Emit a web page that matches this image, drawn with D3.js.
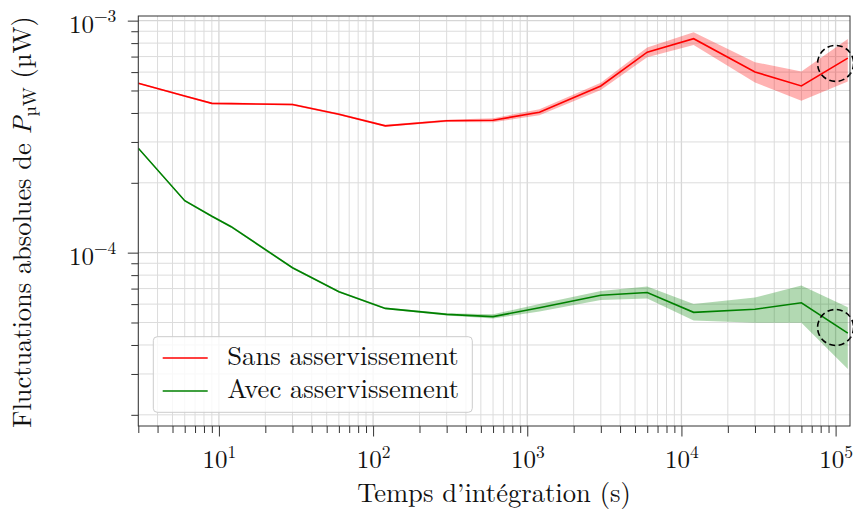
<!DOCTYPE html>
<html><head><meta charset="utf-8">
<script src="https://cdn.jsdelivr.net/npm/d3@7"></script>
<style>body{margin:0;background:#fff}</style>
</head><body><svg id="c" width="853" height="511"></svg>
<script>
// ---- data ----
const times = [3, 6, 9, 12, 30, 60, 120, 300, 600, 1200, 3000, 6000, 12000, 30000, 60000, 120000];
const sansValues = [5.37e-4, 4.73e-4, 4.40e-4, 4.39e-4, 4.35e-4, 3.95e-4, 3.52e-4, 3.70e-4, 3.72e-4, 4.03e-4, 5.23e-4, 7.31e-4, 8.36e-4, 6.01e-4, 5.23e-4, 6.89e-4];
const sansLower  = [5.33e-4, 4.69e-4, 4.36e-4, 4.35e-4, 4.31e-4, 3.91e-4, 3.49e-4, 3.66e-4, 3.65e-4, 3.91e-4, 5.02e-4, 6.95e-4, 7.86e-4, 5.41e-4, 4.51e-4, 5.46e-4];
const sansUpper  = [5.41e-4, 4.77e-4, 4.44e-4, 4.43e-4, 4.39e-4, 3.99e-4, 3.56e-4, 3.74e-4, 3.80e-4, 4.15e-4, 5.40e-4, 7.65e-4, 8.91e-4, 6.62e-4, 6.03e-4, 8.34e-4];
const avecValues = [2.82e-4, 1.675e-4, 1.435e-4, 1.294e-4, 8.61e-5, 6.79e-5, 5.75e-5, 5.42e-5, 5.30e-5, 5.79e-5, 6.55e-5, 6.73e-5, 5.53e-5, 5.70e-5, 6.08e-5, 4.50e-5];
const avecLower  = [2.80e-4, 1.66e-4, 1.42e-4, 1.28e-4, 8.53e-5, 6.73e-5, 5.70e-5, 5.36e-5, 5.20e-5, 5.57e-5, 6.25e-5, 6.35e-5, 5.10e-5, 4.99e-5, 4.99e-5, 3.15e-5];
const avecUpper  = [2.84e-4, 1.69e-4, 1.45e-4, 1.31e-4, 8.69e-5, 6.85e-5, 5.80e-5, 5.48e-5, 5.42e-5, 6.00e-5, 6.84e-5, 7.14e-5, 6.00e-5, 6.40e-5, 7.21e-5, 5.82e-5];
const seriesNames = ["Sans asservissement", "Avec asservissement"];
const seriesColors = ["#ff0000", "#008000"];
const xMajorTicks = [10, 100, 1000, 10000, 100000];
const xMajorExp = ["1", "2", "3", "4", "5"];
const yMajorTicks = [1e-4, 1e-3];
const yMajorExp = ["\u22124", "\u22123"];
const highlightTime = 1e5;
const highlightValues = [6.54e-4, 4.76e-5];
const xDomain = [3, 1.24e5];
const yDomain = [1.79e-5, 1.047e-3];
const xLabel = "Temps d\u2019int\u00e9gration (s)";

// ---- layout ----
const FONT = "'Latin Modern Roman','Liberation Serif',serif";
const L = 138.3, R = 850, T = 16, B = 426;
const svg = d3.select("#c").attr("font-family", FONT);
const x = d3.scaleLog().domain(xDomain).range([L, R]);
const y = d3.scaleLog().domain(yDomain).range([B, T]);

function minorTicks(dom) {
  const out = [];
  const lo = Math.floor(Math.log10(dom[0])), hi = Math.ceil(Math.log10(dom[1]));
  for (let e = lo; e <= hi; e++) for (let m = 1; m <= 9; m++) {
    const v = m * Math.pow(10, e);
    if (v >= dom[0] * 0.9999 && v <= dom[1] * 1.0001) out.push(v);
  }
  return out;
}
const xAll = minorTicks(xDomain), yAll = minorTicks(yDomain);
const isMajor = v => Math.abs(Math.log10(v) - Math.round(Math.log10(v))) < 1e-9;
const xMinor = xAll.filter(v => !isMajor(v)), yMinor = yAll.filter(v => !isMajor(v));

// grid
const grid = svg.append("g");
grid.selectAll("line.vx").data(xAll).join("line")
  .attr("x1", d => x(d)).attr("x2", d => x(d)).attr("y1", T).attr("y2", B)
  .attr("stroke", d => isMajor(d) ? "#d6d6d6" : "#dcdcdc").attr("stroke-width", d => isMajor(d) ? 1.3 : 1);
grid.selectAll("line.hy").data(yAll).join("line")
  .attr("y1", d => y(d)).attr("y2", d => y(d)).attr("x1", L).attr("x2", R)
  .attr("stroke", d => isMajor(d) ? "#d6d6d6" : "#dcdcdc").attr("stroke-width", d => isMajor(d) ? 1.3 : 1);

svg.append("clipPath").attr("id", "clip").append("rect")
  .attr("x", L).attr("y", T).attr("width", R - L).attr("height", B - T);
const plot = svg.append("g").attr("clip-path", "url(#clip)");

const series = [
  {v: sansValues, lo: sansLower, hi: sansUpper},
  {v: avecValues, lo: avecLower, hi: avecUpper}
];
const area = d3.area().x(d => x(d.t)).y0(d => y(d.lo)).y1(d => y(d.hi));
const line = d3.line().x(d => x(d.t)).y(d => y(d.v));
series.forEach((s, i) => {
  const pts = times.map((t, k) => ({t, v: s.v[k], lo: s.lo[k], hi: s.hi[k]}));
  plot.append("path").datum(pts).attr("d", area)
    .attr("fill", seriesColors[i]).attr("fill-opacity", 0.3);
  plot.append("path").datum(pts).attr("d", line)
    .attr("fill", "none").attr("stroke", seriesColors[i]).attr("stroke-width", 1.6);
});

// highlight circles (not clipped)
svg.selectAll("circle.hl").data(highlightValues).join("circle")
  .attr("cx", x(highlightTime)).attr("cy", d => y(d)).attr("r", 18)
  .attr("fill", "none").attr("stroke", "#000").attr("stroke-width", 1.6)
  .attr("stroke-dasharray", "6,3.5");

// frame
svg.append("rect").attr("x", L).attr("y", T).attr("width", R - L).attr("height", B - T)
  .attr("fill", "none").attr("stroke", "#333").attr("stroke-width", 1);

// x axis
const gxMin = svg.append("g").attr("transform", `translate(0,${B})`)
  .call(d3.axisBottom(x).tickValues(xMinor).tickSize(7).tickFormat(""));
const gxMaj = svg.append("g").attr("transform", `translate(0,${B})`)
  .call(d3.axisBottom(x).tickValues(xMajorTicks).tickSize(10.5).tickFormat(""));
[gxMin, gxMaj].forEach(g => { g.attr("font-family", FONT); g.select(".domain").remove(); g.selectAll("line").attr("stroke", "#333"); });
gxMaj.selectAll(".tick").each(function(d, i) {
  const t = d3.select(this).append("text").attr("y", 41.7).attr("text-anchor", "middle")
    .attr("font-size", 25).attr("fill", "#111").attr("font-family", FONT);
  t.append("tspan").text("10");
  t.append("tspan").attr("dy", -10).attr("font-size", 17.5).text(xMajorExp[i]);
});

// y axis
const gyMin = svg.append("g").attr("transform", `translate(${L},0)`)
  .call(d3.axisLeft(y).tickValues(yMinor).tickSize(7).tickFormat(""));
const gyMaj = svg.append("g").attr("transform", `translate(${L},0)`)
  .call(d3.axisLeft(y).tickValues(yMajorTicks).tickSize(10.5).tickFormat(""));
[gyMin, gyMaj].forEach(g => { g.attr("font-family", FONT); g.select(".domain").remove(); g.selectAll("line").attr("stroke", "#333"); });
gyMaj.selectAll(".tick").each(function(d, i) {
  const t = d3.select(this).append("text").attr("x", -22).attr("y", 11.6).attr("text-anchor", "end")
    .attr("font-size", 25).attr("fill", "#111").attr("font-family", FONT);
  t.append("tspan").text("10");
  t.append("tspan").attr("dy", -10.6).attr("font-size", 17.5).text(yMajorExp[i]);
});

// axis labels
svg.append("text").attr("x", 494).attr("y", 502).attr("text-anchor", "middle")
  .attr("font-size", 26.6).attr("fill", "#111").attr("font-family", FONT).text(xLabel);
const yl = svg.append("text").attr("transform", "translate(31,222) rotate(-90)")
  .attr("text-anchor", "middle").attr("font-size", 26.4).attr("fill", "#111").attr("font-family", FONT);
yl.append("tspan").text("Fluctuations absolues de ");
yl.append("tspan").attr("font-style", "italic").text("P");
yl.append("tspan").attr("font-size", 18.5).attr("dy", 5).text("\u00b5W");
yl.append("tspan").attr("dy", -5).text(" (\u00b5W)");

// legend
const lg = svg.append("g");
lg.append("rect").attr("x", 153.3).attr("y", 336.7).attr("width", 319).attr("height", 75.6)
  .attr("rx", 4).attr("fill", "#fff").attr("fill-opacity", 0.8).attr("stroke", "#cccccc").attr("stroke-width", 1);
seriesNames.forEach((n, i) => {
  const yy = 358 + i * 33;
  lg.append("line").attr("x1", 162.7).attr("x2", 207.7).attr("y1", yy).attr("y2", yy)
    .attr("stroke", seriesColors[i]).attr("stroke-width", 1.6);
  lg.append("text").attr("x", 227.3).attr("y", yy + 7.3).attr("font-size", 26.6)
    .attr("fill", "#111").attr("font-family", FONT).text(n);
});
</script></body></html>
